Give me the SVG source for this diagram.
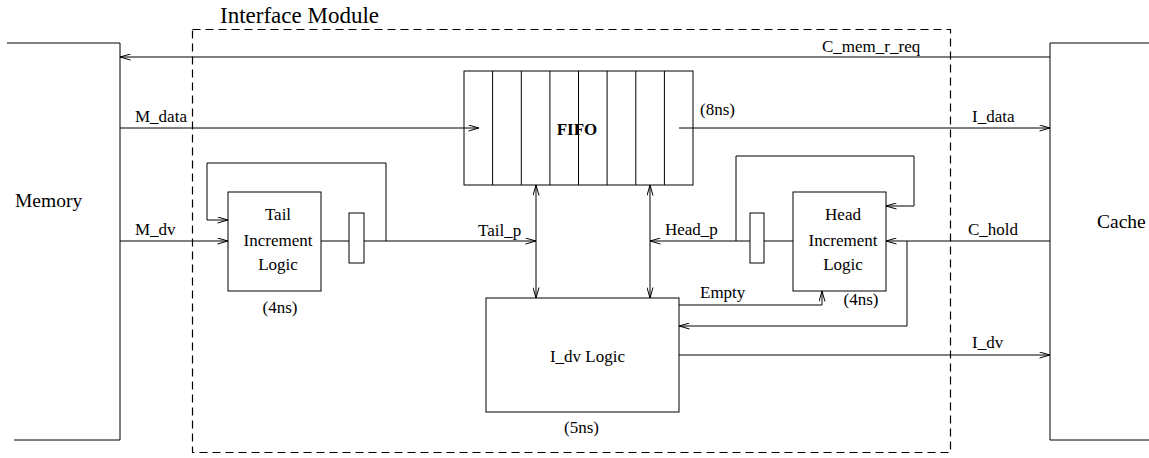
<svg xmlns="http://www.w3.org/2000/svg" width="1149" height="458" viewBox="0 0 1149 458">
<style>
.ln{fill:none;stroke:#000;stroke-width:1}
.bx{fill:#fff;stroke:#000;stroke-width:1}
.t{font-family:"Liberation Serif","Times New Roman",serif;font-size:17px;fill:#000}
.c{text-anchor:middle}
.dash{fill:none;stroke:#000;stroke-width:1.2;stroke-dasharray:8 5}
</style>
<defs>
<marker id="ah" viewBox="0 0 11 7" refX="11" refY="3.5" markerWidth="11" markerHeight="7" markerUnits="userSpaceOnUse" orient="auto-start-reverse">
<path d="M0.5,0.5 L11,3.5 L0.5,6.5" fill="none" stroke="#000" stroke-width="1"/>
</marker>
</defs>
<rect x="0" y="0" width="1149" height="458" fill="#fff"/>
<g id="interface-module">
<rect class="dash" x="192.5" y="29.5" width="758" height="423"/>
<text class="t" x="220" y="22.7" style="font-size:23px">Interface Module</text>
</g>
<g id="memory">
<polyline class="ln" points="7,43 120,43 120,440 14,440"/>
<text class="t" x="15" y="207" style="font-size:19.5px">Memory</text>
</g>
<g id="cache">
<polyline class="ln" points="1149,43 1050,43 1050,440 1149,440"/>
<text class="t" x="1097" y="228" style="font-size:19.5px">Cache</text>
</g>
<g id="fifo">
<rect class="bx" x="464" y="71" width="229" height="114"/>
<path class="ln" d="M492.6,71V185M521.3,71V185M549.9,71V185M578.5,71V185M607.1,71V185M635.8,71V185M664.4,71V185"/>
<text class="t c" x="577" y="135" font-weight="bold">FIFO</text>
<text class="t" x="700" y="115">(8ns)</text>
</g>
<g id="tail-logic">
<rect class="bx" x="228" y="192" width="93" height="99"/>
<text class="t c" x="278" y="220">Tail</text>
<text class="t c" x="278" y="246">Increment</text>
<text class="t c" x="278" y="270">Logic</text>
<text class="t c" x="280" y="313">(4ns)</text>
</g>
<g id="tail-reg">
<rect class="bx" x="349" y="213" width="15" height="50"/>
</g>
<g id="head-logic">
<rect class="bx" x="793" y="192" width="93" height="99"/>
<text class="t c" x="843" y="220">Head</text>
<text class="t c" x="843" y="246">Increment</text>
<text class="t c" x="843" y="270">Logic</text>
<text class="t c" x="861" y="305">(4ns)</text>
</g>
<g id="head-reg">
<rect class="bx" x="750" y="213" width="14" height="50"/>
</g>
<g id="idv-logic">
<rect class="bx" x="486" y="298" width="193" height="114"/>
<text class="t c" x="587.5" y="361.5">I_dv Logic</text>
<text class="t c" x="581.5" y="433">(5ns)</text>
</g>
<g id="connectors">
<line class="ln" x1="1050" y1="57" x2="120" y2="57" marker-end="url(#ah)"/>
<text class="t" x="822" y="51.5">C_mem_r_req</text>
<line class="ln" x1="120" y1="128" x2="479" y2="128" marker-end="url(#ah)"/>
<text class="t" x="135" y="122">M_data</text>
<line class="ln" x1="679" y1="128" x2="1050" y2="128" marker-end="url(#ah)"/>
<text class="t" x="972" y="122">I_data</text>
<line class="ln" x1="120" y1="241" x2="228" y2="241" marker-end="url(#ah)"/>
<text class="t" x="135" y="235">M_dv</text>
<line class="ln" x1="321" y1="241" x2="349" y2="241"/>
<line class="ln" x1="364" y1="241" x2="536" y2="241" marker-end="url(#ah)"/>
<text class="t" x="478" y="236">Tail_p</text>
<polyline class="ln" points="386,241 386,163 207,163 207,220 228,220" marker-end="url(#ah)"/>
<line class="ln" x1="536" y1="185" x2="536" y2="298" marker-start="url(#ah)" marker-end="url(#ah)"/>
<line class="ln" x1="650" y1="185" x2="650" y2="298" marker-start="url(#ah)" marker-end="url(#ah)"/>
<line class="ln" x1="793" y1="241" x2="764" y2="241"/>
<line class="ln" x1="750" y1="241" x2="650" y2="241" marker-end="url(#ah)"/>
<text class="t" x="665" y="235">Head_p</text>
<polyline class="ln" points="736,241 736,156 914,156 914,206 886,206" marker-end="url(#ah)"/>
<line class="ln" x1="1050" y1="241" x2="886" y2="241" marker-end="url(#ah)"/>
<text class="t" x="968" y="235">C_hold</text>
<polyline class="ln" points="907,241 907,326 679,326" marker-end="url(#ah)"/>
<polyline class="ln" points="679,305 822,305 822,291" marker-end="url(#ah)"/>
<text class="t" x="700" y="298">Empty</text>
<line class="ln" x1="679" y1="355" x2="1050" y2="355" marker-end="url(#ah)"/>
<text class="t" x="972" y="348">I_dv</text>
</g>
</svg>
